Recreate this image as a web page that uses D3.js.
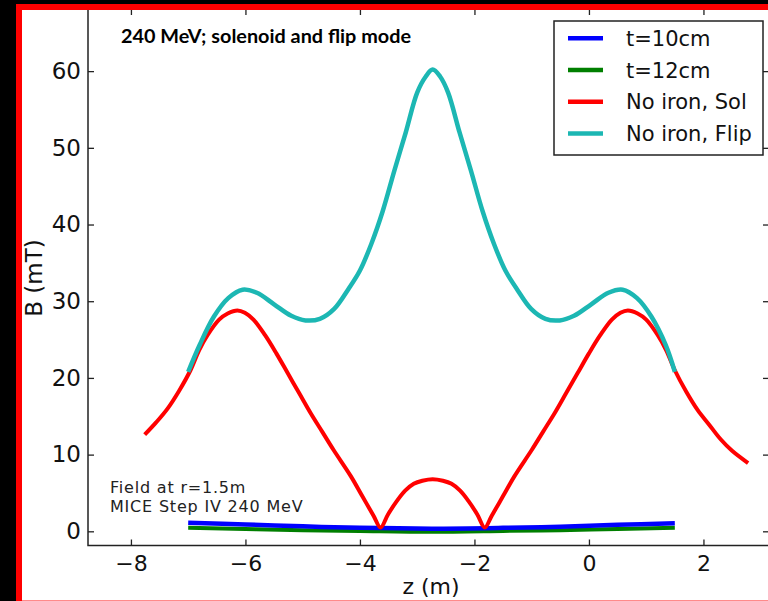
<!DOCTYPE html>
<html>
<head>
<meta charset="utf-8">
<script src="https://cdn.jsdelivr.net/npm/d3@7"></script>
<style>
  body { margin: 0; background: #000; }
  svg { display: block; }
  .tick text { font-family: "DejaVu Sans", sans-serif; fill: #111; }
</style>
</head>
<body>
<svg id="chart" width="768" height="601"></svg>
<script>
// tick labels
const xTicks = [-8, -6, -4, -2, 0, 2];
const yTicks = [0, 10, 20, 30, 40, 50, 60];
const legendLabels = ["t=10cm", "t=12cm", "No iron, Sol", "No iron, Flip"];
const seriesColors = ["#0000ff", "#007f00", "#ff0000", "#1cb7b3"];

// iron shield curves (t=10cm, t=12cm)
const zIron = [-7, -6, -5, -4, -2.75, -1.5, -0.5, 0.5, 1.5];
const bT10 = [1.1, 0.9, 0.65, 0.45, 0.35, 0.45, 0.6, 0.85, 1.05];
const bT12 = [0.45, 0.3, 0.15, 0.05, -0.05, 0.05, 0.15, 0.3, 0.45];

// no iron, solenoid mode
const zSol = [-7.76, -7.56, -7.36, -7.16, -6.96, -6.81, -6.66, -6.46, -6.31, -6.14, -6.01, -5.86, -5.66, -5.46, -5.26,
    -5.06, -4.86, -4.66, -4.46, -4.16, -3.96, -3.76, -3.64, -3.51, -3.36, -3.21, -3.06, -2.91, -2.73, -2.55, -2.4,
    -2.25, -2.1, -1.95, -1.82, -1.7, -1.5, -1.3, -1.0, -0.8, -0.6, -0.4, -0.2, 0.0, 0.2, 0.4, 0.55, 0.68, 0.85, 1.0,
    1.2, 1.35, 1.5, 1.7, 1.9, 2.1, 2.3, 2.5, 2.78];
const bSol = [12.6, 14.2, 16.0, 18.3, 21.0, 23.6, 25.6, 27.6, 28.4, 28.8, 28.5, 27.6, 25.6, 23.2, 20.6,
    18.0, 15.4, 13.0, 10.6, 7.2, 4.6, 2.0, 0.5, 2.2, 3.9, 5.3, 6.2, 6.6, 6.8, 6.6, 6.2,
    5.3, 3.9, 2.2, 0.5, 2.0, 4.6, 7.2, 10.6, 13.0, 15.4, 18.0, 20.6, 23.2, 25.6, 27.6, 28.5, 28.8, 28.4, 27.6,
    25.6, 23.6, 21.0, 18.2, 15.8, 13.9, 12.0, 10.5, 8.9];

// no iron, flip mode
const zFlip = [-7.0, -6.8, -6.55, -6.3, -6.05, -5.8, -5.5, -5.2, -4.95, -4.7, -4.45, -4.2, -4.0, -3.8, -3.6, -3.4,
    -3.2, -3.0, -2.85, -2.73, -2.6, -2.46, -2.26, -2.06, -1.86, -1.66, -1.46, -1.26, -1.01, -0.76, -0.51, -0.26,
    0.04, 0.34, 0.59, 0.84, 1.09, 1.34, 1.5];
const bFlip = [20.8, 24.3, 28.0, 30.4, 31.5, 31.1, 29.6, 28.1, 27.5, 27.7, 29.0, 31.6, 34.0, 37.5, 41.8, 47.0,
    52.0, 57.2, 59.3, 60.2, 59.3, 57.2, 52.0, 47.0, 41.8, 37.5, 34.0, 31.6, 29.0, 27.7, 27.5, 28.1,
    29.6, 31.1, 31.5, 30.4, 28.0, 24.3, 20.8];

const svg = d3.select("#chart");
const plot = {left: 88, right: 769, top: 9, bottom: 545.5};

const x = d3.scaleLinear().domain([-8.75, 3.145]).range([plot.left, plot.right]);
const y = d3.scaleLinear().domain([-1.85, 68.1]).range([plot.bottom, plot.top]);

// slide frame
svg.append("rect").attr("width", 768).attr("height", 601).attr("fill", "#000");
svg.append("rect").attr("x", 22).attr("y", 10).attr("width", 746).attr("height", 591).attr("fill", "#fff");

svg.append("clipPath").attr("id", "clip")
    .append("rect")
    .attr("x", plot.left).attr("y", plot.top)
    .attr("width", plot.right - plot.left).attr("height", plot.bottom - plot.top);

const series = [
    {z: zIron, b: bT10, w: 4.5},
    {z: zIron, b: bT12, w: 4},
    {z: zSol, b: bSol, w: 4},
    {z: zFlip, b: bFlip, w: 4.5},
];

const line = d3.line()
    .x(d => x(d[0]))
    .y(d => y(d[1]))
    .curve(d3.curveCatmullRom.alpha(0.5));

const lines = svg.append("g").attr("clip-path", "url(#clip)");
// order: green under blue, then red, cyan on top
[1, 0, 2, 3].forEach(i => {
    const s = series[i];
    lines.append("path")
        .datum(s.z.map((z, k) => [z, s.b[k]]))
        .attr("d", line)
        .attr("fill", "none")
        .attr("stroke", seriesColors[i])
        .attr("stroke-width", s.w)
        .attr("stroke-linejoin", "round");
});

// axes, ticks pointing inward
function styleAxis(g) {
    g.select(".domain").remove();
    g.selectAll(".tick line").attr("stroke", "#222").attr("stroke-width", 1.3);
}

svg.append("g")
    .attr("transform", `translate(0,${plot.bottom})`)
    .call(d3.axisBottom(x).tickValues(xTicks).tickSize(-6).tickPadding(10))
    .call(styleAxis)
    .selectAll("text").style("font-size", "22px");

svg.append("g")
    .attr("transform", `translate(0,${plot.top})`)
    .call(d3.axisTop(x).tickValues(xTicks).tickSize(-6).tickFormat(""))
    .call(styleAxis);

svg.append("g")
    .attr("transform", `translate(${plot.left},0)`)
    .call(d3.axisLeft(y).tickValues(yTicks).tickSize(-6).tickPadding(7))
    .call(styleAxis)
    .selectAll("text").style("font-size", "23px");

svg.append("g")
    .attr("transform", `translate(${plot.right},0)`)
    .call(d3.axisRight(y).tickValues(yTicks).tickSize(-6).tickFormat(""))
    .call(styleAxis);

svg.append("rect")
    .attr("x", plot.left).attr("y", plot.top)
    .attr("width", plot.right - plot.left).attr("height", plot.bottom - plot.top)
    .attr("fill", "none").attr("stroke", "#222").attr("stroke-width", 1.5);

// axis labels
svg.append("text")
    .attr("x", 431).attr("y", 594)
    .attr("text-anchor", "middle")
    .style("font-family", "DejaVu Sans").style("font-size", "22px").attr("fill", "#111")
    .text("z (m)");

svg.append("text")
    .attr("transform", "translate(42,278) rotate(-90)")
    .attr("text-anchor", "middle")
    .style("font-family", "DejaVu Sans").style("font-size", "23px").attr("fill", "#111")
    .text("B (mT)");

// title
svg.append("text")
    .attr("x", 121).attr("y", 43)
    .attr("textLength", 290).attr("lengthAdjust", "spacingAndGlyphs")
    .style("font-family", "Lato, 'Open Sans', sans-serif").style("font-weight", "bold").style("font-size", "18.5px")
    .attr("fill", "#000")
    .text("240 MeV; solenoid and flip mode");

// note in lower left
const note = svg.append("text")
    .style("font-family", "DejaVu Sans").style("font-size", "16px")
    .style("letter-spacing", "0.8px").attr("fill", "#222");
note.append("tspan").attr("x", 110).attr("y", 493).text("Field at r=1.5m");
note.append("tspan").attr("x", 110).attr("y", 512).text("MICE Step IV 240 MeV");

// legend
const legend = svg.append("g");
legend.append("rect")
    .attr("x", 554).attr("y", 21).attr("width", 209).attr("height", 134)
    .attr("fill", "#fff").attr("stroke", "#222").attr("stroke-width", 1.5);

legendLabels.forEach((label, i) => {
    const ly = 38.3 + i * 31.7;
    legend.append("line")
        .attr("x1", 568).attr("x2", 603).attr("y1", ly).attr("y2", ly)
        .attr("stroke", seriesColors[i]).attr("stroke-width", 4.5);
    legend.append("text")
        .attr("x", 626).attr("y", ly + 7.5)
        .style("font-family", "DejaVu Sans").style("font-size", "21px").attr("fill", "#111")
        .text(label);
});

// red slide border
svg.append("rect").attr("x", 16).attr("y", 4).attr("width", 6).attr("height", 597).attr("fill", "#ff0000");
svg.append("rect").attr("x", 16).attr("y", 4).attr("width", 752).attr("height", 6).attr("fill", "#ff0000");
svg.append("rect").attr("x", 22).attr("y", 600).attr("width", 746).attr("height", 1).attr("fill", "#ff8a8a");
</script>
</body>
</html>
